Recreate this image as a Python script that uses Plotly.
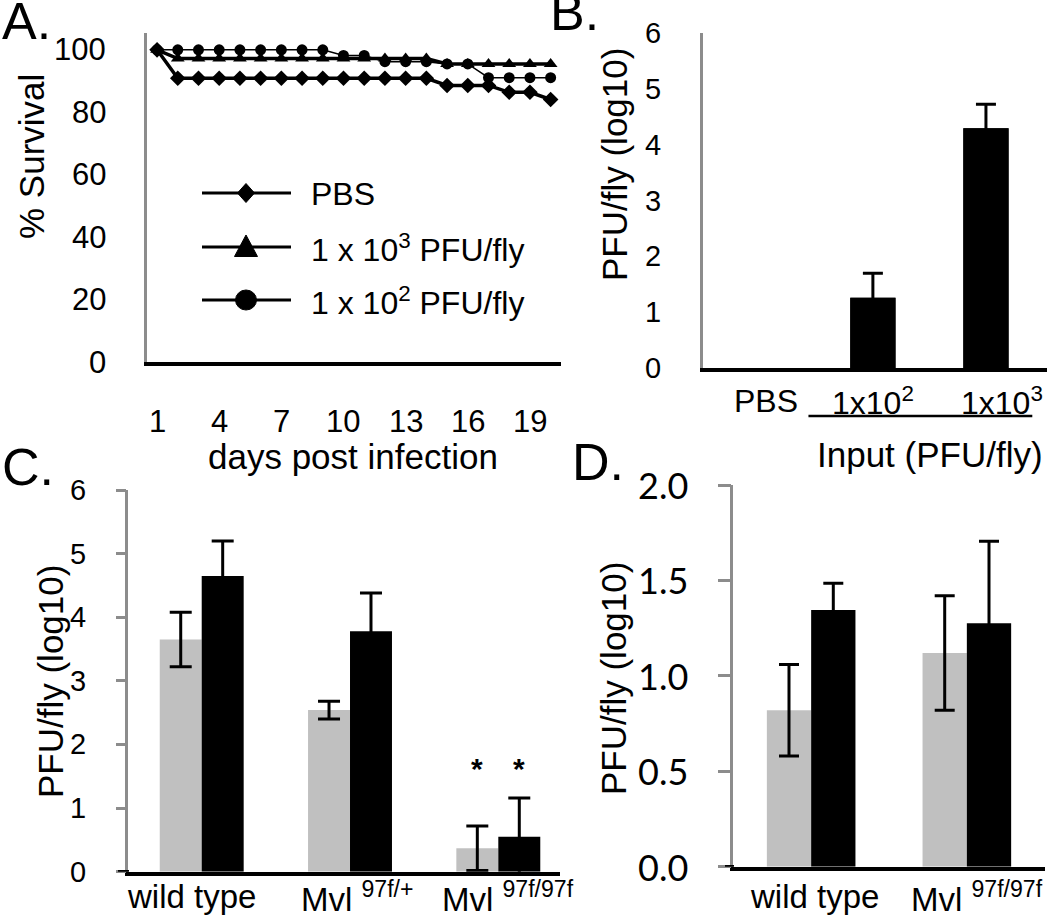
import plotly.graph_objects as go

W, H = 1050, 921
FONT = "Liberation Sans, Arial, Helvetica, sans-serif"
FONT_D = "Lato, Carlito, sans-serif"
GRAY_AXIS = "#8c8c8c"
BAR_GRAY = "#c0c0c0"

# ---------------- Panel A: survival ----------------
days = list(range(1, 21))
day_ticks = [1, 4, 7, 10, 13, 16, 19]
surv_pbs = [100, 90.9, 90.9, 90.9, 90.9, 90.9, 90.9, 90.9, 90.9, 90.9,
            90.9, 90.9, 90.9, 90.9, 88.6, 88.6, 88.6, 86.4, 86.4, 84.1]
surv_1e3 = [100, 97.2, 97.2, 97.2, 97.2, 97.2, 97.2, 97.2, 97.2, 97.2,
            97.2, 97.2, 97.2, 97.2, 95.5, 95.5, 95.5, 95.5, 95.5, 95.5]
surv_1e2 = [100, 100, 100, 100, 100, 100, 100, 100, 100, 98.2,
            98.2, 96.2, 96.2, 96.2, 95.5, 95.5, 91.1, 91.1, 91.1, 91.1]
surv_ticks = [0, 20, 40, 60, 80, 100]
series_names = ["PBS", "1 x 10<sup>3</sup> PFU/fly", "1 x 10<sup>2</sup> PFU/fly"]

# ---------------- Panel B: titer vs input ----------------
b_labels = ["PBS", "1x10<sup>2</sup>", "1x10<sup>3</sup>"]
b_vals = [0.0, 1.26, 4.30]
b_err = [0.0, 0.44, 0.43]
b_ticks = [0, 1, 2, 3, 4, 5, 6]

# ---------------- Panel C ----------------
c_labels = ["wild type", "Mvl <sup>97f/+</sup>", "Mvl <sup>97f/97f</sup>"]
c_gray = [3.65, 2.54, 0.37]
c_gray_err = [0.43, 0.14, 0.35]
c_black = [4.65, 3.78, 0.55]
c_black_err = [0.55, 0.60, 0.61]
c_sig = ["", "", "*"]
c_sig_y = 1.62
c_ticks = [0, 1, 2, 3, 4, 5, 6]

# ---------------- Panel D ----------------
d_labels = ["wild type", "Mvl <sup>97f/97f</sup>"]
d_gray = [0.82, 1.12]
d_gray_err = [0.24, 0.30]
d_black = [1.345, 1.275]
d_black_err = [0.14, 0.43]
d_ticks = [0.0, 0.5, 1.0, 1.5, 2.0]


def px(x):
    return x / W


def py(y):
    return 1 - y / H


def dom_x(a, b):
    return [px(a), px(b)]


def dom_y(top, bottom):
    return [py(bottom), py(top)]


fig = go.Figure()

# Panel A traces
styles_a = [("diamond", 3.5, 12), ("triangle-up", 3.5, 12), ("circle", 1.5, 11)]
for name, ys, (sym, lw, ms) in zip(series_names, [surv_pbs, surv_1e3, surv_1e2], styles_a):
    fig.add_trace(go.Scatter(
        x=days, y=ys, name=name, mode="lines+markers",
        line=dict(color="black", width=lw),
        marker=dict(symbol=sym, size=ms, color="black"),
        xaxis="x", yaxis="y", showlegend=False,
    ))

# Panel B (bars; error bars only where there is a measured spread)
b_idx = list(range(len(b_vals)))
fig.add_trace(go.Bar(
    x=b_idx, y=b_vals, width=0.4, marker_color="black", marker_line_width=0,
    xaxis="x2", yaxis="y2", showlegend=False,
))
err_idx = [i for i in b_idx if b_err[i] > 0]
fig.add_trace(go.Bar(
    x=err_idx, y=[b_vals[i] for i in err_idx], width=0.4,
    marker_color="black", marker_line_width=0,
    error_y=dict(type="data", array=[b_err[i] for i in err_idx],
                 color="black", thickness=3, width=10),
    xaxis="x2", yaxis="y2", showlegend=False,
))

# Panel C
CW = 0.283
fig.add_trace(go.Bar(
    x=list(range(len(c_gray))), y=c_gray, width=CW, offset=-CW,
    marker_color=BAR_GRAY, marker_line_width=0,
    error_y=dict(type="data", array=c_gray_err, color="black", thickness=3, width=11),
    xaxis="x3", yaxis="y3", showlegend=False,
))
fig.add_trace(go.Bar(
    x=list(range(len(c_black))), y=c_black, width=CW, offset=0,
    marker_color="black", marker_line_width=0,
    error_y=dict(type="data", array=c_black_err, color="black", thickness=3, width=11),
    xaxis="x3", yaxis="y3", showlegend=False,
))

# Panel D
DWD = 0.2845
fig.add_trace(go.Bar(
    x=list(range(len(d_gray))), y=d_gray, width=DWD, offset=-DWD,
    marker_color=BAR_GRAY, marker_line_width=0,
    error_y=dict(type="data", array=d_gray_err, color="black", thickness=3, width=10),
    xaxis="x4", yaxis="y4", showlegend=False,
))
fig.add_trace(go.Bar(
    x=list(range(len(d_black))), y=d_black, width=DWD, offset=0,
    marker_color="black", marker_line_width=0,
    error_y=dict(type="data", array=d_black_err, color="black", thickness=3, width=10),
    xaxis="x4", yaxis="y4", showlegend=False,
))

base = dict(showgrid=False, zeroline=False, fixedrange=True, showticklabels=False)
xline = dict(showline=True, linecolor="black", linewidth=3.5, ticks="")
yline = dict(showline=True, linecolor=GRAY_AXIS, linewidth=2.5)

fig.update_layout(
    width=W, height=H, autosize=False,
    margin=dict(l=0, r=0, t=0, b=0, pad=0),
    paper_bgcolor="white", plot_bgcolor="white",
    font=dict(family=FONT, color="black"),
    barmode="overlay", showlegend=False,
    xaxis=dict(**base, **xline, domain=dom_x(146.7, 561), range=[0.5, 20.5], anchor="y"),
    yaxis=dict(**base, **yline, domain=dom_y(33.3, 362), range=[0, 105.3], ticks="", anchor="x"),
    xaxis2=dict(**base, **xline, domain=dom_x(703.3, 1047), range=[-0.5, 2.54], anchor="y2"),
    yaxis2=dict(**base, **yline, domain=dom_y(33.3, 368), range=[0, 6], ticks="", anchor="x2"),
    xaxis3=dict(**base, **xline, domain=dom_x(128.3, 560), range=[-0.495, 2.416], anchor="y3"),
    yaxis3=dict(**base, **yline, domain=dom_y(490, 871.7), range=[0, 6],
                tickvals=c_ticks, ticks="outside", ticklen=10, tickwidth=3,
                tickcolor=GRAY_AXIS, anchor="x3"),
    xaxis4=dict(**base, **xline, domain=dom_x(733.3, 1044.7), range=[-0.5, 1.5], anchor="y4"),
    yaxis4=dict(**base, **yline, domain=dom_y(485, 866.7), range=[0, 2],
                tickvals=d_ticks, ticks="outside", ticklen=13, tickwidth=3,
                tickcolor=GRAY_AXIS, anchor="x4"),
)

ann = []


def add_text(text, x, y, xref="paper", yref="paper", size=30, family=FONT,
             xanchor="center", yanchor="middle", angle=0, xshift=0):
    ann.append(dict(text=text, x=x, y=y, xref=xref, yref=yref, showarrow=False,
                    xanchor=xanchor, yanchor=yanchor, textangle=angle,
                    xshift=xshift,
                    font=dict(family=family, size=size, color="black")))


# --- tick labels ---
for v in surv_ticks:
    add_text(str(v), px(108), v, yref="y", size=31, xanchor="right")
for d in day_ticks:
    add_text(str(d), d, py(421), xref="x", size=31)
for v in b_ticks:
    add_text(str(v), px(663), v, yref="y2", size=29, xanchor="right")
for i, (lab, sh) in enumerate(zip(b_labels, [6, 0, 16])):
    add_text(lab, i, py(400.6), xref="x2", size=32, xshift=sh)
for v in c_ticks:
    add_text(str(v), px(88), v, yref="y3", size=29, xanchor="right")
for i, (lab, sh) in enumerate(zip(c_labels, [-10, 7, 10])):
    add_text(lab, i, py(896.6), xref="x3", size=33, xshift=sh)
for v in d_ticks:
    add_text("%.1f" % v, px(690), v, yref="y4", size=36, family=FONT_D, xanchor="right")
for i, (lab, sh) in enumerate(zip(d_labels, [3, 10])):
    add_text(lab, i, py(896.6), xref="x4", size=33, xshift=sh)

# --- panel letters ---
for txt, x, yc in [("A.", 0, 21), ("B.", 548, 12), ("C.", 0, 467), ("D.", 570, 462)]:
    add_text(txt, px(x), py(yc), size=52, xanchor="left")

# --- axis titles ---
for txt, x, yc, ang in [("% Survival", 32, 157, -90),
                        ("PFU/fly (log10)", 615, 165, -90),
                        ("PFU/fly (log10)", 50, 682, -90),
                        ("PFU/fly (log10)", 613, 679, -90),
                        ("days post infection", 353, 456, 0),
                        ("Input (PFU/fly)", 930, 454, 0)]:
    add_text(txt, px(x), py(yc), size=35, angle=ang)

# --- significance asterisks (panel C) ---
for i, s in enumerate(c_sig):
    if s:
        for off in (-CW / 2, CW / 2):
            add_text("<b>%s</b>" % s, i + off, c_sig_y, xref="x3", yref="y3", size=30)

# --- legend for panel A (key line + marker + label) ---
legend_rows = [193, 247, 300]
shapes = []
for name, row, (sym, lw, ms) in zip(series_names, legend_rows, styles_a):
    shapes.append(dict(type="line", xref="paper", yref="paper",
                       x0=px(202), x1=px(291), y0=py(row), y1=py(row),
                       line=dict(color="black", width=3)))
    cx = 246
    if sym == "diamond":
        path = "M %f %f L %f %f L %f %f L %f %f Z" % (
            px(cx), py(row - 9.5), px(cx + 8.5), py(row),
            px(cx), py(row + 9.5), px(cx - 8.5), py(row))
        shapes.append(dict(type="path", xref="paper", yref="paper", path=path,
                           fillcolor="black", line=dict(color="black", width=1)))
    elif sym == "triangle-up":
        path = "M %f %f L %f %f L %f %f Z" % (
            px(cx), py(row - 12), px(cx + 11.5), py(row + 9.5), px(cx - 11.5), py(row + 9.5))
        shapes.append(dict(type="path", xref="paper", yref="paper", path=path,
                           fillcolor="black", line=dict(color="black", width=1)))
    else:
        shapes.append(dict(type="circle", xref="paper", yref="paper",
                           x0=px(cx - 10.5), x1=px(cx + 10.5),
                           y0=py(row + 10), y1=py(row - 10),
                           fillcolor="black", line=dict(color="black", width=1)))
    add_text(name, px(309), py(row + 1), size=32, xanchor="left")

# Underline grouping the infected inputs in panel B
shapes.append(dict(type="line", xref="x2", yref="paper", x0=0.43, x1=2.41,
                   y0=py(416), y1=py(416), line=dict(color="black", width=2.5)))

# Baselines of C and D continue left to the end of the tick marks
for yref, x0, x1 in [("y3", 118, 129), ("y4", 725, 734)]:
    shapes.append(dict(type="line", xref="paper", yref=yref, x0=px(x0), x1=px(x1),
                       y0=0, y1=0, line=dict(color="black", width=3.5)))

fig.update_layout(annotations=ann, shapes=shapes)

# the page body gets no default margin so the figure sits at the window origin
fig.write_html("out.html", config={"displayModeBar": False},
               post_script="document.body.style.margin='0px';")
